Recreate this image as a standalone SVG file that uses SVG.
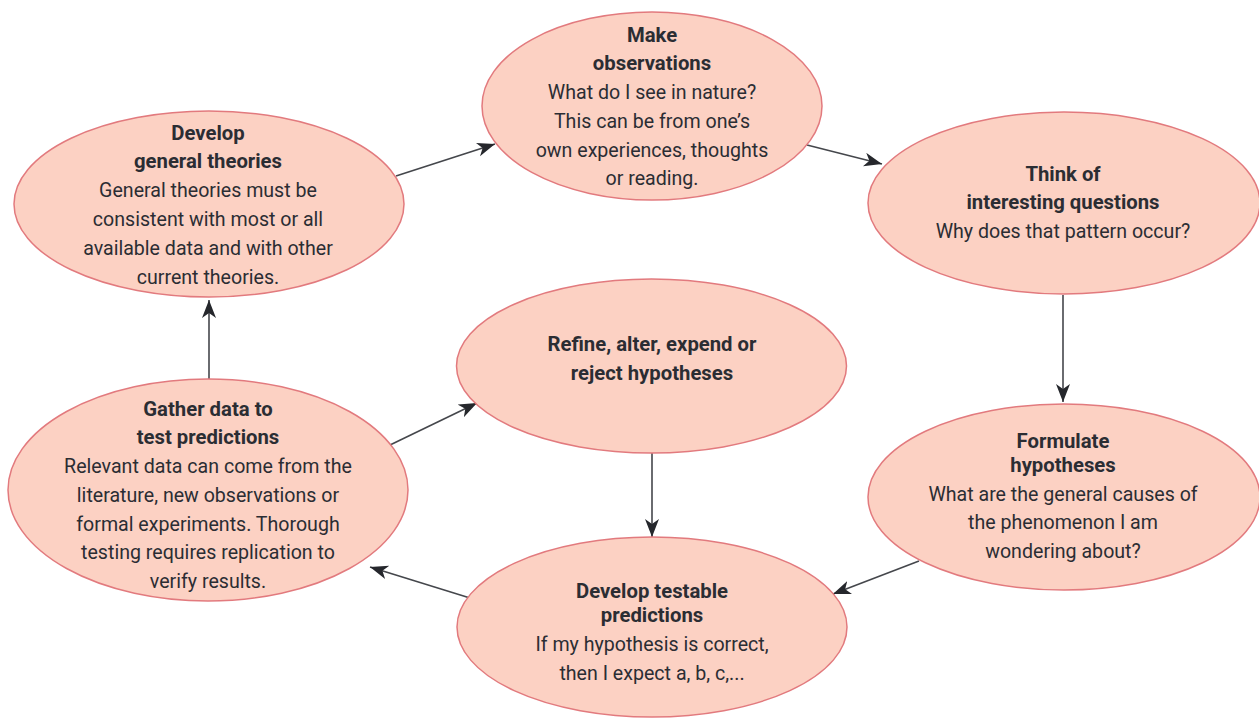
<svg xmlns="http://www.w3.org/2000/svg" width="1259" height="720" viewBox="0 0 1259 720">
<defs>
<marker id="arr" markerUnits="userSpaceOnUse" markerWidth="20" markerHeight="16" refX="18" refY="7" orient="auto">
<path d="M0,0 L18,7 L0,14 L5,7 Z" fill="#25272c"/>
</marker>
</defs>
<style>
.node ellipse{fill:#fcd1c3;stroke:#e27a7e;stroke-width:1.5}
.node text{font-family:Roboto,"Liberation Sans",sans-serif;font-size:19.6px;fill:#2b2d33;text-anchor:middle}
.node text.b{font-weight:bold;font-size:20.3px}
#edges line{stroke:#45474c;stroke-width:1.6;marker-end:url(#arr)}
</style>
<rect width="1259" height="720" fill="#ffffff"/>
<g id="edges">
<line x1="396" y1="176" x2="495" y2="144"/>
<line x1="807" y1="145" x2="882" y2="164"/>
<line x1="1063" y1="295" x2="1063" y2="402"/>
<line x1="919" y1="561" x2="833" y2="594"/>
<line x1="470" y1="598" x2="370" y2="567"/>
<line x1="652" y1="453" x2="652" y2="537"/>
<line x1="390" y1="445" x2="477" y2="403"/>
<line x1="209" y1="379" x2="209" y2="300"/>
</g>
<g id="n-observations" class="node">
<ellipse cx="652" cy="106" rx="170" ry="94"/>
<text class="b" x="652" y="42">Make</text>
<text class="b" x="652" y="70">observations</text>
<text x="652" y="99">What do I see in nature?</text>
<text x="652" y="128">This can be from one’s</text>
<text x="652" y="157">own experiences, thoughts</text>
<text x="652" y="185">or reading.</text>
</g>
<g id="n-theories" class="node">
<ellipse cx="209" cy="204" rx="195" ry="93"/>
<text class="b" x="208" y="140">Develop</text>
<text class="b" x="208" y="168">general theories</text>
<text x="208" y="197">General theories must be</text>
<text x="208" y="226">consistent with most or all</text>
<text x="208" y="255">available data and with other</text>
<text x="208" y="284">current theories.</text>
</g>
<g id="n-questions" class="node">
<ellipse cx="1064" cy="203" rx="196" ry="91"/>
<text class="b" x="1063" y="181">Think of</text>
<text class="b" x="1063" y="209">interesting questions</text>
<text x="1063" y="238">Why does that pattern occur?</text>
</g>
<g id="n-refine" class="node">
<ellipse cx="651.5" cy="366" rx="195" ry="87"/>
<text class="b" x="652" y="351">Refine, alter, expend or</text>
<text class="b" x="652" y="380">reject hypotheses</text>
</g>
<g id="n-gather" class="node">
<ellipse cx="208" cy="490" rx="200" ry="111"/>
<text class="b" x="208" y="416">Gather data to</text>
<text class="b" x="208" y="444">test predictions</text>
<text x="208" y="473">Relevant data can come from the</text>
<text x="208" y="502">literature, new observations or</text>
<text x="208" y="531">formal experiments. Thorough</text>
<text x="208" y="559">testing requires replication to</text>
<text x="208" y="588">verify results.</text>
</g>
<g id="n-hypotheses" class="node">
<ellipse cx="1064" cy="497" rx="196" ry="93"/>
<text class="b" x="1063" y="448">Formulate</text>
<text class="b" x="1063" y="472">hypotheses</text>
<text x="1063" y="501">What are the general causes of</text>
<text x="1063" y="529">the phenomenon I am</text>
<text x="1063" y="558">wondering about?</text>
</g>
<g id="n-predictions" class="node">
<ellipse cx="652" cy="627" rx="195" ry="90"/>
<text class="b" x="652" y="598">Develop testable</text>
<text class="b" x="652" y="622">predictions</text>
<text x="652" y="651">If my hypothesis is correct,</text>
<text x="652" y="680">then I expect a, b, c,...</text>
</g>
</svg>
